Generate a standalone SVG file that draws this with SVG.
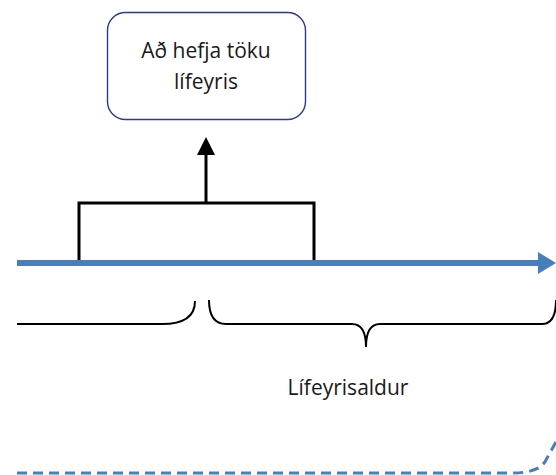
<svg xmlns="http://www.w3.org/2000/svg" width="556" height="475" viewBox="0 0 556 475">
<style>
.lbl{font-family:"Open Sans","Liberation Sans",sans-serif;font-size:21px;fill:#1a1a1a;text-anchor:middle}
.brace{fill:none;stroke:#000;stroke-width:2}
</style>
<rect width="556" height="475" fill="#fff"/>
<g id="box">
<rect x="107.5" y="12.5" width="198" height="107" rx="18" fill="#fff" stroke="#2E3797" stroke-width="1.4"/>
<text class="lbl" x="206" y="58">Að hefja töku</text>
<text class="lbl" x="206" y="89">lífeyris</text>
</g>
<g id="connectors">
<path d="M79 262 V203 H314 V262" fill="none" stroke="#000" stroke-width="3"/>
<path d="M206 203 V152" fill="none" stroke="#000" stroke-width="3"/>
<polygon points="206,137 215,155 197,155" fill="#000"/>
<line x1="17" y1="263" x2="540" y2="263" stroke="#4A7EBB" stroke-width="6"/>
<polygon points="556,263 538,252 538,274" fill="#4A7EBB"/>
<path d="M17 473 H512 Q540 473 546 460 L556 442" fill="none" stroke="#4A7EBB" stroke-width="3" stroke-dasharray="10,6"/>
</g>
<g id="braces">
<path class="brace" d="M17 324 H162 Q195 324 195 301"/>
<path class="brace" d="M209 300 Q209 324 226 324 H352 Q366 324 366 347 Q366 324 380 324 H542 Q556 324 556 300"/>
</g>
<g id="label">
<text class="lbl" x="348" y="395">Lífeyrisaldur</text>
</g>
</svg>
